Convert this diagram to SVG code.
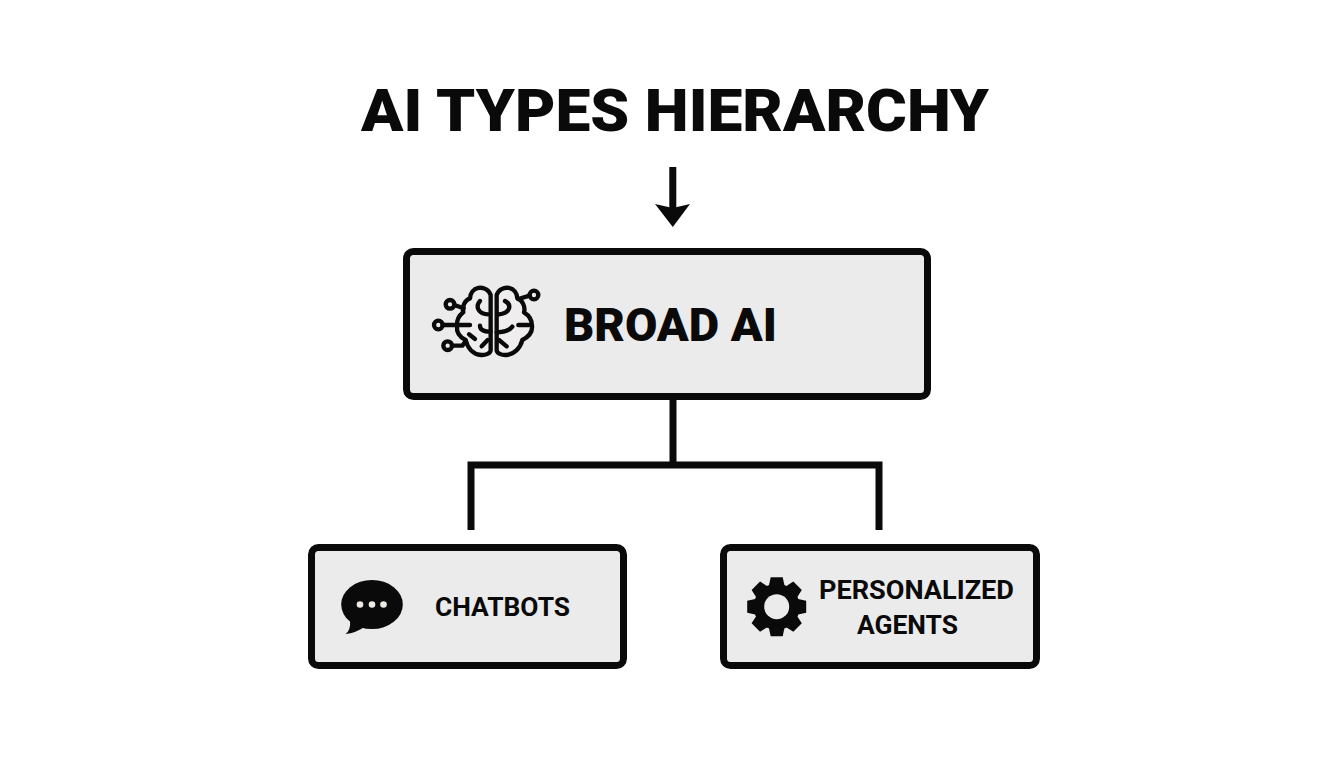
<svg xmlns="http://www.w3.org/2000/svg" width="1344" height="768" viewBox="0 0 1344 768">
<style>
.box{fill:#ebebeb;stroke:#0a0a0a;stroke-width:7}
.conn{fill:none;stroke:#0a0a0a;stroke-width:7;stroke-linejoin:miter}
text{font-family:Roboto,"Liberation Sans",sans-serif;font-weight:700;fill:#0a0a0a}
.heavy{font-weight:900}
.b{fill:none;stroke:#0a0a0a;stroke-width:13;stroke-linecap:round;stroke-linejoin:round}
.lobe{fill:#efeded}
.tooth{fill:#0a0a0a}
</style>
<rect width="1344" height="768" fill="#ffffff"/>
<g id="title"><text class="heavy" x="361" y="131" font-size="60" textLength="628" lengthAdjust="spacingAndGlyphs">AI TYPES HIERARCHY</text></g>
<g id="connectors">
<path class="conn" d="M672.800 167V208"/>
<path d="M655 204 L672.800 208 L690 204 L672.800 227 Z" fill="#0a0a0a"/>
<path class="conn" d="M673 400V465M471 530V465H879V530"/>
</g>
<g id="broad-ai">
<rect class="box" x="406.500" y="251.500" width="521" height="145" rx="7"/>
<g transform="translate(425 275) scale(.3333)">
<path class="b lobe" d="M197 225V60C192 44 175 36 160 39C145 42 136 55 135 70C120 75 110 95 115 112C104 120 95 135 96 152C94 170 102 185 122 195C128 220 145 238 168 240C182 241 197 235 197 225Z"/>
<path class="b lobe" d="M215 225V60C220 44 237 36 252 39C267 42 276 55 277 70C292 75 302 95 297 112C310 120 321 135 321 152C323 170 312 185 292 195C286 220 267 238 244 240C230 241 215 235 215 225Z"/>
<circle class="b" cx="75" cy="88" r="13"/><circle class="b" cx="40" cy="150" r="13"/><circle class="b" cx="68" cy="212" r="13"/><circle class="b" cx="327" cy="60" r="13"/>
<path class="b" d="M88 90L116 100M53 150H135M81 212H112L122 198M314 62L280 72"/>
<path class="b" d="M165 78C150 95 160 118 190 118M165 152C165 165 178 170 197 170M132 178L150 192M188 195L170 214"/>
<path class="b" d="M240 78C262 90 255 115 222 118M280 150H312M262 155C252 168 235 172 215 172M222 195L245 214"/>
</g>
<text class="heavy" x="564" y="341" font-size="46" textLength="213" lengthAdjust="spacingAndGlyphs">BROAD AI</text>
</g>
<g id="chatbots">
<rect class="box" x="311.500" y="547.500" width="312" height="118" rx="7"/>
<ellipse cx="372" cy="604.500" rx="30.800" ry="24.500" fill="#0a0a0a"/>
<path d="M350 620 Q351 630 345.500 634 Q356 633 366 626 Z" fill="#0a0a0a"/>
<g fill="#efe9e4"><circle cx="360" cy="604.500" r="3.300"/><circle cx="372" cy="604.500" r="3.300"/><circle cx="383.500" cy="604.500" r="3.300"/></g>
<text x="435" y="616" font-size="26" textLength="135" lengthAdjust="spacingAndGlyphs">CHATBOTS</text>
</g>
<g id="personalized-agents">
<rect class="box" x="723.500" y="547.500" width="313" height="118" rx="7"/>
<g transform="translate(776.700 606.700)" fill="#0a0a0a">
<circle r="23"/>
<path class="tooth" d="M-6 -29.500H6L8.500 -18H-8.500Z"/>
<path class="tooth" transform="rotate(45)" d="M-6 -29.500H6L8.500 -18H-8.500Z"/>
<path class="tooth" transform="rotate(90)" d="M-6 -29.500H6L8.500 -18H-8.500Z"/>
<path class="tooth" transform="rotate(135)" d="M-6 -29.500H6L8.500 -18H-8.500Z"/>
<path class="tooth" transform="rotate(180)" d="M-6 -29.500H6L8.500 -18H-8.500Z"/>
<path class="tooth" transform="rotate(225)" d="M-6 -29.500H6L8.500 -18H-8.500Z"/>
<path class="tooth" transform="rotate(270)" d="M-6 -29.500H6L8.500 -18H-8.500Z"/>
<path class="tooth" transform="rotate(315)" d="M-6 -29.500H6L8.500 -18H-8.500Z"/>
<circle r="12.500" fill="#ebebeb"/>
</g>
<text x="819" y="599" font-size="26" textLength="195" lengthAdjust="spacingAndGlyphs">PERSONALIZED</text>
<text x="857" y="634" font-size="26" textLength="101" lengthAdjust="spacingAndGlyphs">AGENTS</text>
</g>
</svg>
